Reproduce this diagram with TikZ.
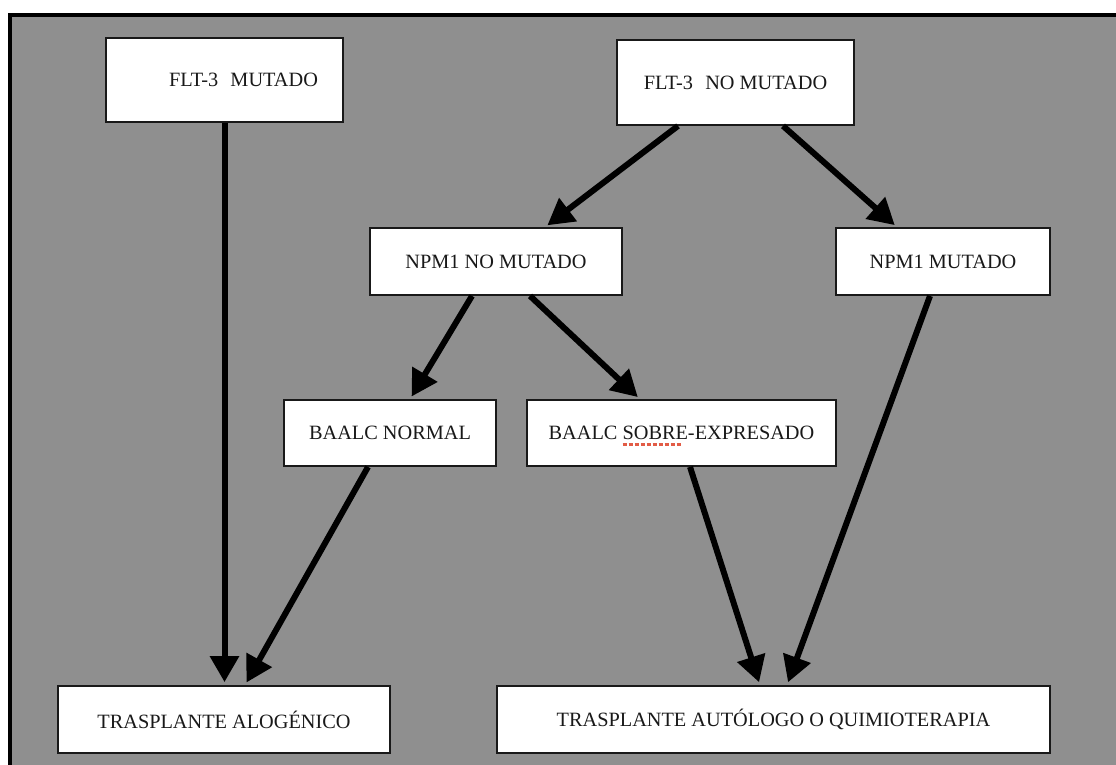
\documentclass[tikz,border=0pt]{standalone}
\usepackage{fontspec}
\setmainfont{Liberation Serif}
\usetikzlibrary{arrows.meta}
\definecolor{bggray}{RGB}{143,143,143}
\definecolor{spellred}{RGB}{226,92,70}
\newcommand\spellul[1]{\setbox0\hbox{#1}\rlap{\smash{\raisebox{-6pt}{\color{spellred}\leaders\hbox to 6pt{\rule{4pt}{2.2pt}\hfil}\hskip\wd0}}}\box0}
\tikzset{
  box/.style={draw=black!90, line width=1.8pt, fill=white, rectangle, inner sep=0pt,
    font=\fontsize{20.3}{24}\selectfont, text=black!90},
  arr/.style={line width=6pt, -{Triangle[length=26pt,width=28pt]}, shorten >=3pt}
}
\begin{document}
\begin{tikzpicture}[x=1pt,y=-1pt]
\useasboundingbox (0,0) rectangle (1116,764);
\begin{scope}
\clip (0,0) rectangle (1116,764);
\draw[fill=bggray, line width=4.5pt] (10,15) rectangle (1140,790);
\end{scope}
% boxes
\node[box, minimum width=237pt, minimum height=84pt] (b1) at (224.5,80) {\hspace{38pt}FLT-3\hspace{0.6em}MUTADO};
\node[box, minimum width=237pt, minimum height=85pt] (b2) at (735.5,82.5) {FLT-3\hspace{0.6em}NO MUTADO};
\node[box, minimum width=252pt, minimum height=67pt] (b3) at (496,261.5) {NPM1 NO MUTADO};
\node[box, minimum width=214pt, minimum height=67pt] (b4) at (943,261.5) {NPM1 MUTADO};
\node[box, minimum width=212pt, minimum height=66pt] (b5) at (390,433) {BAALC NORMAL};
\node[box, minimum width=309pt, minimum height=66pt] (b6) at (681.5,433) {BAALC \spellul{SOBRE}-EXPRESADO};
\node[box, minimum width=332pt, minimum height=67pt] (b7) at (224,719.5) {TRASPLANTE ALOGÉNICO};
\node[box, minimum width=553pt, minimum height=67pt] (b8) at (773.5,719.5) {TRASPLANTE AUTÓLOGO O QUIMIOTERAPIA};
% arrows
\draw[arr] (b1.south) -- (b1.south |- b7.north);
\draw[arr] ([xshift=-57.5pt]b2.south) -- ([xshift=49pt]b3.north);
\draw[arr] ([xshift=47.5pt]b2.south) -- ([xshift=-46pt]b4.north);
\draw[arr] ([xshift=-24pt]b3.south) -- ([xshift=20pt]b5.north);
\draw[arr] ([xshift=34pt]b3.south) -- ([xshift=-41.5pt]b6.north);
\draw[arr] ([xshift=-22pt]b5.south) -- ([xshift=21pt]b7.north);
\draw[arr] ([xshift=8.5pt]b6.south) -- ([xshift=-13.5pt]b8.north);
\draw[arr] ([xshift=-13pt]b4.south) -- ([xshift=13.5pt]b8.north);
\end{tikzpicture}
\end{document}
